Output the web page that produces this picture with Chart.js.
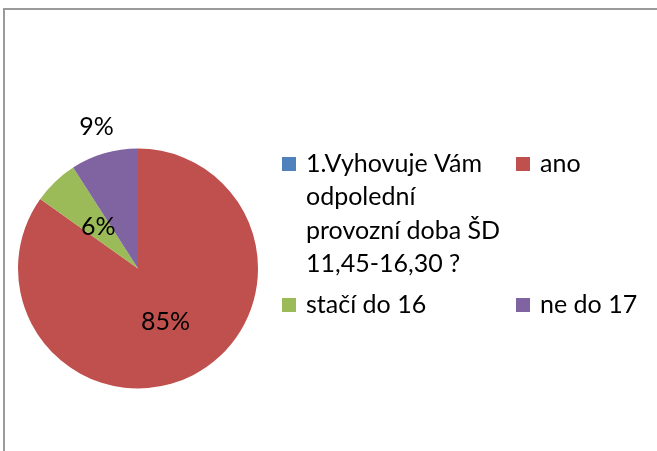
<!DOCTYPE html>
<html>
<head>
<meta charset="utf-8">
<script src="https://cdn.jsdelivr.net/npm/chart.js@4/dist/chart.umd.min.js"></script>
<style>
    html, body { margin: 0; padding: 0; background: #fff; }
    #wrap { position: relative; width: 657px; height: 451px; overflow: hidden; }
    #frame {
        position: absolute; left: 3px; top: 8px; width: 800px; height: 600px;
        border-left: 2px solid #9a9a9a; border-top: 2px solid #9a9a9a;
    }
    canvas { position: absolute; left: 0; top: 0; }
</style>
</head>
<body>
<div id="wrap">
    <div id="frame"></div>
    <canvas id="pieChart" width="657" height="451"></canvas>
</div>
<script>
const labels = [
    ['1.Vyhovuje Vám', 'odpolední', 'provozní doba ŠD', '11,45-16,30 ?'],
    ['ano'],
    ['stačí do 16'],
    ['ne do 17']
];
const answers = [0, 28, 2, 3];
const colors = ['#4F81BD', '#C0504D', '#9BBB59', '#8064A2'];

const FONT = 'Lato, "Open Sans", sans-serif';

// procenta do vysečí
const pctLabels = {
    id: 'pctLabels',
    afterDatasetsDraw(chart, args, opts) {
        const ctx = chart.ctx;
        const meta = chart.getDatasetMeta(0);
        const data = chart.data.datasets[0].data;
        const total = data.reduce((a, b) => a + b, 0);
        ctx.save();
        ctx.font = opts.size + 'px ' + FONT;
        ctx.fillStyle = '#000';
        ctx.textAlign = 'center';
        ctx.textBaseline = 'middle';
        meta.data.forEach((arc, i) => {
            if (!data[i]) return;
            const { x, y, startAngle, endAngle, outerRadius } = arc.getProps(['x', 'y', 'startAngle', 'endAngle', 'outerRadius'], true);
            const mid = (startAngle + endAngle) / 2;
            const r = outerRadius * opts.radius[i];
            const pct = Math.round(data[i] / total * 100) + '%';
            ctx.fillText(pct, x + Math.cos(mid) * r, y + Math.sin(mid) * r);
        });
        ctx.restore();
    }
};

// legenda ve dvou sloupcich jako v Excelu
const boxLegend = {
    id: 'boxLegend',
    afterDraw(chart, args, opts) {
        const ctx = chart.ctx;
        const bg = chart.data.datasets[0].backgroundColor;
        ctx.save();
        ctx.font = opts.size + 'px ' + FONT;
        ctx.textBaseline = 'alphabetic';
        chart.data.labels.forEach((lines, i) => {
            const col = opts.cols[i % 2];
            const base = opts.rows[Math.floor(i / 2)];
            ctx.fillStyle = bg[i];
            ctx.fillRect(col, base - 15, 14, 14);
            ctx.fillStyle = '#000';
            lines.forEach((t, k) => ctx.fillText(t, col + 24, base + k * opts.lineHeight));
        });
        ctx.restore();
    }
};

new Chart(document.getElementById('pieChart'), {
    type: 'pie',
    data: {
        labels: labels,
        datasets: [{
            data: answers,
            backgroundColor: colors,
            borderWidth: 0,
            hoverOffset: 0
        }]
    },
    options: {
        responsive: false,
        animation: false,
        events: [],
        layout: { padding: { left: 18, top: 148, right: 399, bottom: 62 } },
        plugins: {
            legend: { display: false },
            tooltip: { enabled: false },
            pctLabels: { size: 25, radius: [0, 0.5, 0.48, 1.23] },
            boxLegend: { size: 25, cols: [282, 516], rows: [172, 313], lineHeight: 33.3 }
        }
    },
    plugins: [pctLabels, boxLegend]
});
</script>
</body>
</html>
